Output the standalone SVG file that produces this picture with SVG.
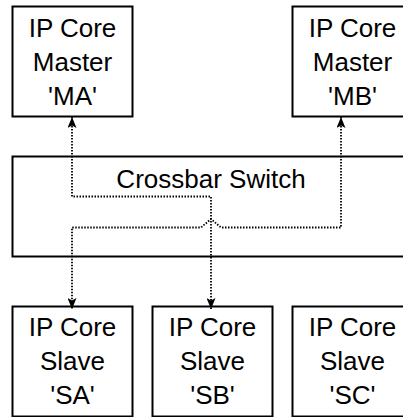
<svg xmlns="http://www.w3.org/2000/svg" width="403" height="417" viewBox="0 0 403 417">
<style>
.box{fill:#fff;stroke:#000;stroke-width:2}
.lbl{font-family:"Liberation Sans",Arial,sans-serif;font-size:26px;fill:#000;text-anchor:middle}
.con{fill:none;stroke:#000;stroke-width:1.8;stroke-dasharray:1.5 1.5;marker-start:url(#ah);marker-end:url(#ah)}
</style>
<defs>
<marker id="ah" viewBox="0 0 11 9" refX="11" refY="4.5" markerWidth="11" markerHeight="9" markerUnits="userSpaceOnUse" orient="auto-start-reverse">
<path d="M0,0 L11,4.5 L0,9 L2.5,4.5 z" fill="#000"/>
</marker>
</defs>
<rect width="403" height="417" fill="#fff"/>
<g id="crossbar">
<rect class="box" x="12.5" y="156.5" width="400" height="100"/>
<text class="lbl" x="211" y="188">Crossbar Switch</text>
</g>
<g id="ma">
<rect class="box" x="12.5" y="6.5" width="120" height="110"/>
<text class="lbl" x="72.5" y="37">IP Core</text>
<text class="lbl" x="72.5" y="71">Master</text>
<text class="lbl" x="72.5" y="105">'MA'</text>
</g>
<g id="mb">
<rect class="box" x="292.5" y="6.5" width="120" height="110"/>
<text class="lbl" x="352.5" y="37">IP Core</text>
<text class="lbl" x="352.5" y="71">Master</text>
<text class="lbl" x="352.5" y="105">'MB'</text>
</g>
<g id="sa">
<rect class="box" x="12.5" y="306.5" width="120" height="110"/>
<text class="lbl" x="72.5" y="336">IP Core</text>
<text class="lbl" x="72.5" y="370">Slave</text>
<text class="lbl" x="72.5" y="404">'SA'</text>
</g>
<g id="sb">
<rect class="box" x="152.5" y="306.5" width="120" height="110"/>
<text class="lbl" x="212.5" y="336">IP Core</text>
<text class="lbl" x="212.5" y="370">Slave</text>
<text class="lbl" x="212.5" y="404">'SB'</text>
</g>
<g id="sc">
<rect class="box" x="292.5" y="306.5" width="120" height="110"/>
<text class="lbl" x="352.5" y="336">IP Core</text>
<text class="lbl" x="352.5" y="370">Slave</text>
<text class="lbl" x="352.5" y="404">'SC'</text>
</g>
<g id="connectors">
<path class="con" d="M72,117 L72,196.5 L211,196.5 L211,309"/>
<path class="con" d="M341,117 L341,227.5 L221,227.5 L211,219 L201,227.5 L72,227.5 L72,309"/>
</g>
</svg>
